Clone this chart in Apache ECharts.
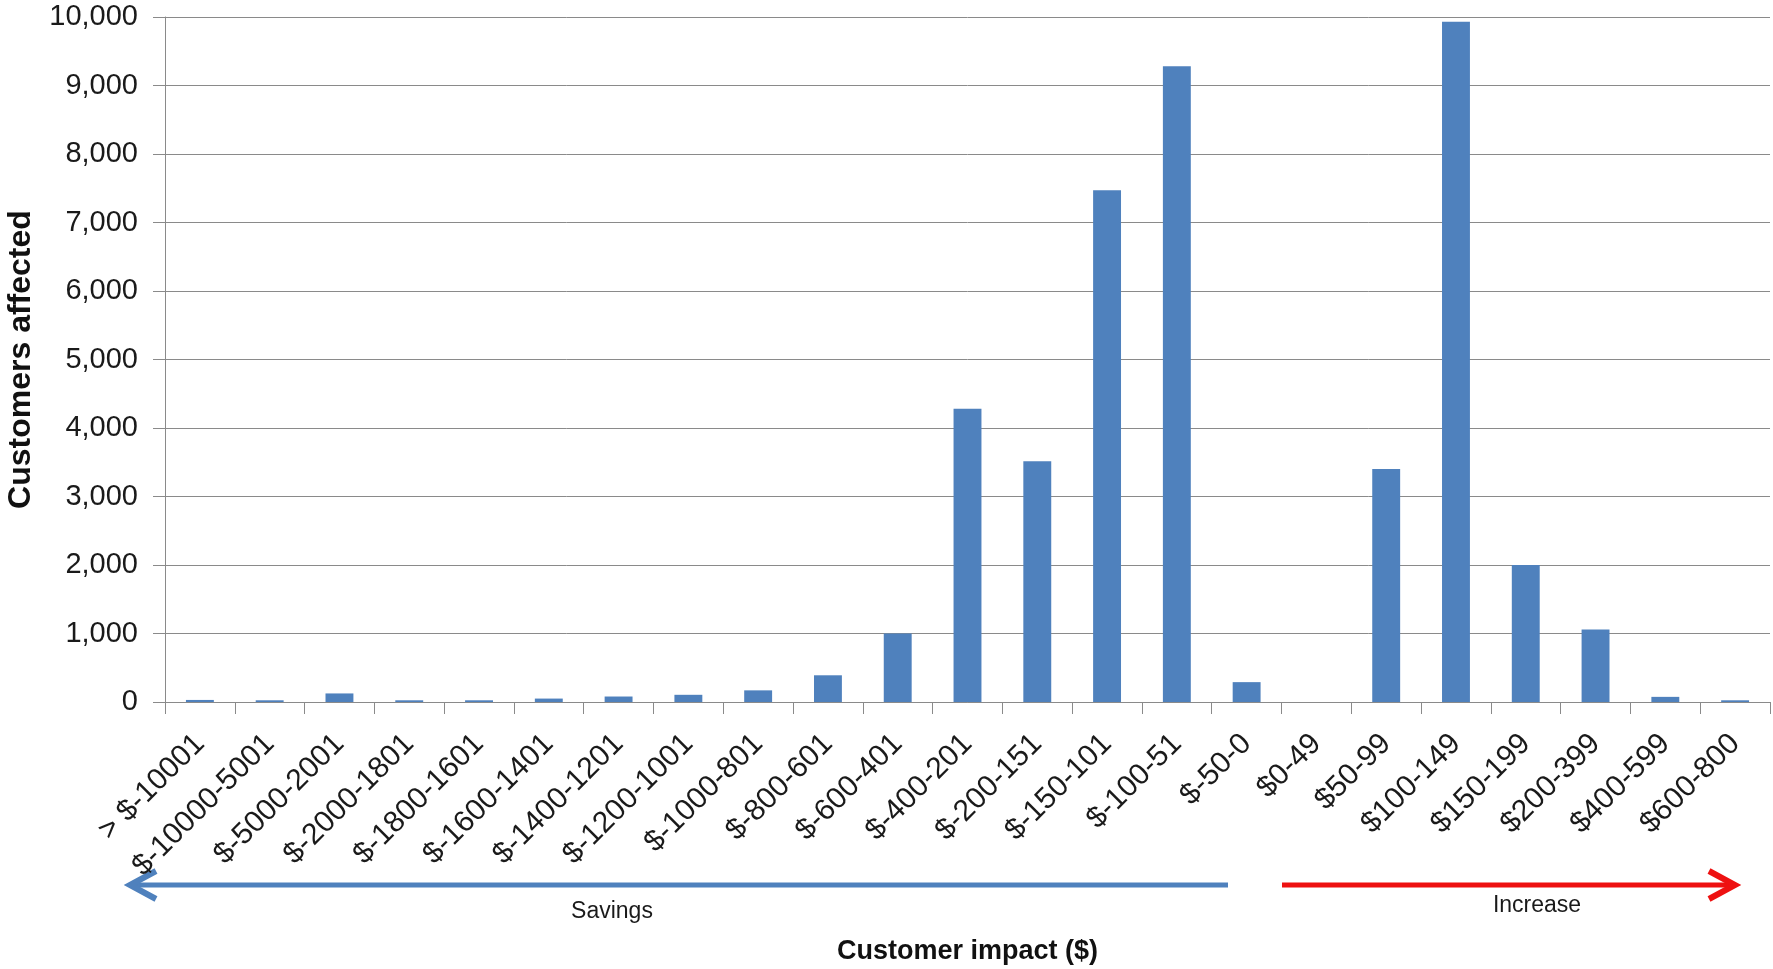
<!DOCTYPE html>
<html>
<head>
<meta charset="utf-8">
<title>Customer impact</title>
<script src="https://cdn.jsdelivr.net/npm/echarts@6/dist/echarts.min.js"></script>
<style>
  html, body { margin: 0; padding: 0; background: #ffffff; }
  #chart { width: 1773px; height: 969px; }
</style>
</head>
<body>
<div id="chart"></div>
<script>
// Impact bands, from largest savings to largest increase
const impactBands = [
  '> $-10001', '$-10000-5001', '$-5000-2001', '$-2000-1801', '$-1800-1601',
  '$-1600-1401', '$-1400-1201', '$-1200-1001', '$-1000-801', '$-800-601',
  '$-600-401', '$-400-201', '$-200-151', '$-150-101', '$-100-51',
  '$-50-0', '$0-49', '$50-99', '$100-149', '$150-199',
  '$200-399', '$400-599', '$600-800'
];

// Number of customers in each band
const customersAffected = [
  30, 25, 125, 25, 25,
  50, 80, 105, 170, 390,
  1000, 4280, 3515, 7470, 9280,
  290, 0, 3400, 9930, 2000,
  1060, 75, 25
];

// Value axis range
const yMin = 0;
const yMax = 10000;
const yStep = 1000;

const FONT = '"Liberation Sans", Arial, sans-serif';
const BAR_BLUE = '#4F81BD';
const GRID_GREY = '#8a8a8a';

const chart = echarts.init(document.getElementById('chart'), null, { renderer: 'canvas' });

// Arrow helper for the savings / increase indicators under the axis
function arrow(x1, x2, y, color, width) {
  const dir = x2 > x1 ? 1 : -1;
  const headLen = 26, headHalf = 14;
  return [
    {
      type: 'line',
      shape: { x1: x1, y1: y, x2: x2 - dir * 2, y2: y },
      style: { stroke: color, lineWidth: width }
    },
    {
      type: 'polyline',
      shape: { points: [[x2 - dir * headLen, y - headHalf], [x2, y], [x2 - dir * headLen, y + headHalf]] },
      style: { stroke: color, lineWidth: width + 1, fill: null, lineJoin: 'miter' }
    }
  ];
}

const option = {
  animation: false,
  backgroundColor: '#ffffff',
  grid: { left: 165, right: 3, top: 17, bottom: 267, containLabel: false, outerBoundsMode: 'none' },
  xAxis: {
    type: 'category',
    data: impactBands,
    boundaryGap: true,
    axisLine: { show: true, lineStyle: { color: GRID_GREY, width: 1 } },
    axisTick: { show: true, length: 12, alignWithLabel: false, interval: 0, lineStyle: { color: GRID_GREY } },
    axisLabel: {
      interval: 0,
      rotate: 45,
      margin: 37,
      color: '#1a1a1a',
      fontFamily: FONT,
      fontSize: 30
    },
    name: 'Customer impact ($)',
    nameLocation: 'middle',
    nameGap: 236,
    nameMoveOverlap: false,
    nameTextStyle: { fontFamily: FONT, fontSize: 27, fontWeight: 'bold', color: '#111' }
  },
  yAxis: {
    type: 'value',
    min: yMin,
    max: yMax,
    interval: yStep,
    axisLine: { show: true, lineStyle: { color: GRID_GREY, width: 1 } },
    axisTick: { show: true, length: 12, lineStyle: { color: GRID_GREY } },
    splitLine: { show: true, lineStyle: { color: GRID_GREY, width: 1 } },
    axisLabel: {
      margin: 27,
      color: '#1a1a1a',
      fontFamily: FONT,
      fontSize: 29,
      formatter: v => v.toLocaleString('en-US')
    },
    name: 'Customers affected',
    nameLocation: 'middle',
    nameRotate: 90,
    nameGap: 128,
    nameMoveOverlap: false,
    nameTextStyle: { fontFamily: FONT, fontSize: 32, fontWeight: 'bold', color: '#111' }
  },
  series: [{
    type: 'bar',
    data: customersAffected,
    barWidth: '40%',
    itemStyle: { color: BAR_BLUE },
    silent: true
  }],
  graphic: [
    ...arrow(1228, 130, 885, BAR_BLUE, 5),
    ...arrow(1282, 1735, 885, '#EE1111', 5),
    {
      type: 'text',
      x: 612, y: 912,
      style: { text: 'Savings', fontFamily: FONT, fontSize: 23, fill: '#1a1a1a', align: 'center', verticalAlign: 'middle' }
    },
    {
      type: 'text',
      x: 1537, y: 906,
      style: { text: 'Increase', fontFamily: FONT, fontSize: 23, fill: '#1a1a1a', align: 'center', verticalAlign: 'middle' }
    }
  ]
};

chart.setOption(option);
</script>
</body>
</html>
